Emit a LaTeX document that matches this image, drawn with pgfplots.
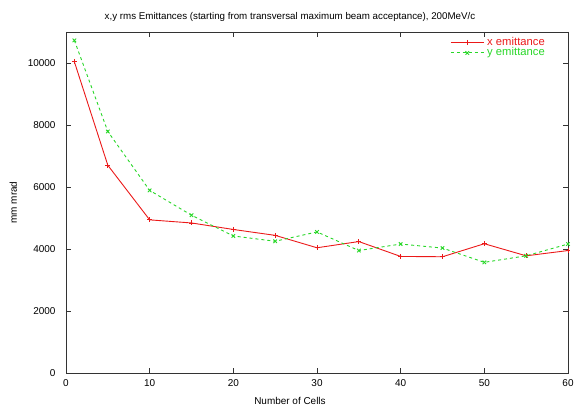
\documentclass[border=0pt]{standalone}
\usepackage{pgfplots}
\pgfplotsset{compat=1.18}
\usepackage{fontspec}
\setmainfont{Liberation Sans}
\definecolor{gred}{RGB}{235,25,25}
\definecolor{ggreen}{RGB}{40,215,40}
\begin{document}
\begin{tikzpicture}
\begin{axis}[
  name=ax,
  scale only axis,
  width=502bp, height=341bp,
  xmin=0, xmax=60, ymin=0, ymax=11000,
  xtick={0,10,...,60}, ytick={0,2000,...,10000},
  tick align=inside,
  major tick length=5bp,
  axis line style={line width=0.8pt, black!80},
  tick style={line width=0.8pt, black!80},
  scaled y ticks=false,
  /pgf/number format/assume math mode=true,
  /pgf/number format/1000 sep={},
  tick label style={font=\fontsize{10}{11}\selectfont},
  yticklabel style={xshift=-7bp},
  xticklabel style={yshift=-3bp},
  label style={font=\fontsize{10}{11}\selectfont},
  xlabel={Number of Cells},
  ylabel={mm mrad},
  xlabel style={yshift=-4bp, xshift=-27bp},
  ylabel style={yshift=4bp},
  title={x,y rms Emittances (starting from transversal maximum beam acceptance), 200MeV/c},
  title style={font=\fontsize{9.8}{11}\selectfont, xshift=-27bp, yshift=1bp},
  legend style={draw=none, fill=none, at={([xshift=-20bp,yshift=-5bp]rel axis cs:1,1)}, anchor=north east,
    font=\fontsize{11.3}{11}\selectfont, inner sep=0pt, row sep=0pt,
    nodes={inner sep=0pt, inner xsep=3bp, text height=8bp, text depth=2.5bp}},
  legend cell align=left,
  legend image code/.code={
    \draw[mark repeat=2,mark phase=2,#1] plot coordinates {(0bp,0bp) (16.5bp,0bp) (33bp,0bp)};
  },
]
\addplot[color=gred, line width=0.9pt, mark=+, mark size=2.5pt] coordinates {
(1,10040) (5,6700) (10,4940) (15,4840) (20,4630) (25,4440) (30,4040) (35,4240) (40,3760) (45,3750) (50,4170) (55,3780) (60,3950)
};
\addlegendentry{\textcolor{gred}{x emittance}}
\addplot[color=ggreen, line width=0.9pt, dashed, mark=x, mark size=2.5pt, mark options={solid}] coordinates {
(1,10730) (5,7790) (10,5890) (15,5090) (20,4420) (25,4250) (30,4550) (35,3950) (40,4160) (45,4030) (50,3570) (55,3780) (60,4160)
};
\addlegendentry{\textcolor{ggreen}{y emittance}}
\end{axis}
\pgfresetboundingbox
\path[use as bounding box] ([shift={(-66bp,-35bp)}]ax.south west) rectangle ([shift={(6bp,32bp)}]ax.north east);
\end{tikzpicture}
\end{document}
